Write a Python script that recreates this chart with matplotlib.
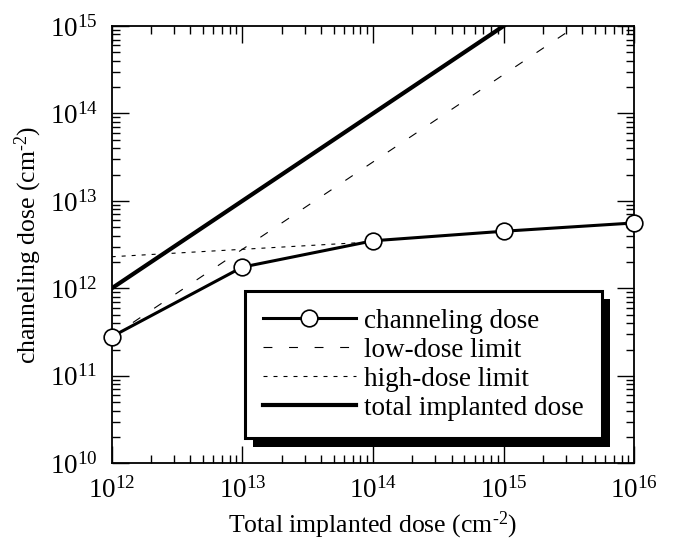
import matplotlib
matplotlib.use("Agg")
from matplotlib import pyplot as plt
from matplotlib import patheffects

# data
implanted = [1e12, 1e13, 1e14, 1e15, 1e16]
channeling = [2.8e11, 1.75e12, 3.5e12, 4.5e12, 5.6e12]

total_x = [1e12, 1e15]
total_y = [1e12, 1e15]

low_x = [1e12, 3.6e15]
low_y = [2.8e11, 1e15]

high_x = [1e12, 1e14]
high_y = [2.3e12, 3.4e12]

plt.rcParams['font.family'] = ['Liberation Serif', 'DejaVu Serif']
plt.rcParams['mathtext.fontset'] = 'custom'
plt.rcParams['mathtext.rm'] = 'Liberation Serif'
plt.rcParams['mathtext.it'] = 'Liberation Serif:italic'
plt.rcParams['mathtext.bf'] = 'Liberation Serif:bold'

fig = plt.figure(figsize=(6.76, 5.55), dpi=100)
ax = fig.add_axes([0.1652, 0.1652, 0.7731, 0.7880])

ax.plot(total_x, total_y, color='k', lw=3.0, label='total implanted dose', zorder=3)
ax.plot(low_x, low_y, color='k', lw=0.8, dashes=(8, 15), label='low-dose limit', zorder=2)
ax.plot(high_x, high_y, color='k', lw=0.8, dashes=(3.6, 5.4), label='high-dose limit', zorder=2)
ax.plot(implanted, channeling, color='k', lw=2.2, marker='o', ms=12,
        mfc='white', mec='k', mew=1.2, label='channeling dose', zorder=4, clip_on=False)

ax.set_xscale('log')
ax.set_yscale('log')
ax.set_xlim(1e12, 1e16)
ax.set_ylim(1e10, 1e15)

ax.tick_params(which='both', direction='in', top=True, right=True, labelsize=19.5, width=1.0)
ax.tick_params(which='major', length=12, pad=10)
ax.tick_params(which='minor', length=6)
for s in ax.spines.values():
    s.set_linewidth(1.3)

ax.set_xlabel('Total implanted dose (cm$^{\\text{-}2}$)', fontsize=18.5, labelpad=4)
ax.set_ylabel('channeling dose (cm$^{\\text{-}2}$)', fontsize=18.5, labelpad=4)

h, l = ax.get_legend_handles_labels()
order = [3, 1, 2, 0]
leg = ax.legend([h[i] for i in order], [l[i] for i in order],
                loc='upper left', bbox_to_anchor=(0.255, 0.394), borderaxespad=0,
                fontsize=19.5, handlelength=3.44, handletextpad=0.32,
                labelspacing=0.15, borderpad=0.65, fancybox=False,
                framealpha=1, edgecolor='k', numpoints=1)
leg.get_frame().set_linewidth(2.2)
leg.legendPatch.set_path_effects([
    patheffects.SimplePatchShadow(offset=(6, -6), shadow_rgbFace='k', alpha=1),
    patheffects.Normal()])

fig.savefig('out.png', dpi=100)
